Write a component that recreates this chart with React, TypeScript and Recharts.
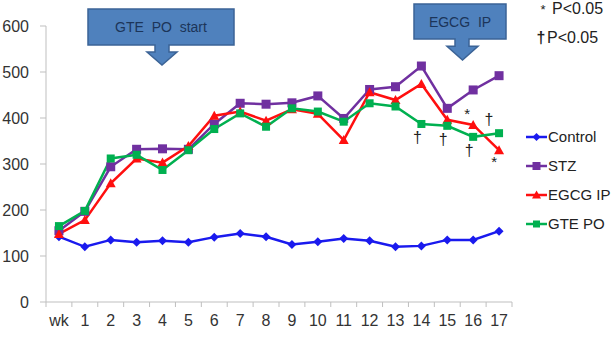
import React from "react";
import { LabelList, Line, LineChart, XAxis, YAxis } from "recharts";

const weeks = ["wk", "1", "2", "3", "4", "5", "6", "7", "8", "9", "10", "11", "12", "13", "14", "15", "16", "17"];
const control = [142, 120, 135, 130, 133, 130, 141, 149, 142, 125, 131, 138, 133, 120, 122, 135, 135, 154];
const stz = [155, 197, 294, 332, 333, 332, 387, 432, 430, 433, 448, 399, 462, 468, 513, 421, 461, 492];
const egcg = [148, 178, 258, 312, 303, 339, 405, 414, 394, 419, 409, 352, 456, 439, 474, 396, 385, 330];
const gte = [165, 198, 312, 320, 287, 330, 376, 410, 381, 421, 414, 392, 432, 425, 387, 383, 359, 367];

// significance marks: "" none, otherwise "<symbol>:<above|below>"
const egcgSig = ["", "", "", "", "", "", "", "", "", "", "", "", "", "", "", "", "*:above", "*:below"];
const gteSig = ["", "", "", "", "", "", "", "", "", "", "", "", "", "", "†:below", "†:below", "†:below", "†:above"];

const yTicks = [0, 100, 200, 300, 400, 500, 600];
const edgeTicks = weeks.map((_, i) => i - 0.5).concat([weeks.length - 0.5]);

const data = weeks.map((wk, i) => ({
  i,
  wk,
  control: control[i],
  stz: stz[i],
  egcg: egcg[i],
  gte: gte[i],
}));

const FONT = "'Liberation Sans', Arial, sans-serif";
const AXIS = "#bfbfbf";

type Shape = "diamond" | "square" | "triangle";

const series: { key: string; name: string; color: string; shape: Shape; size: number }[] = [
  { key: "control", name: "Control", color: "#1a1aee", shape: "diamond", size: 4.5 },
  { key: "stz", name: "STZ", color: "#7030a0", shape: "square", size: 4.5 },
  { key: "egcg", name: "EGCG IP", color: "#ff0f0f", shape: "triangle", size: 5 },
  { key: "gte", name: "GTE PO", color: "#00b050", shape: "square", size: 4 },
];

function Marker({ cx, cy, shape, size, color }: { cx: number; cy: number; shape: Shape; size: number; color: string }) {
  if (cx == null || cy == null) return null;
  if (shape === "diamond") {
    const s = size;
    return <path d={`M${cx},${cy - s}L${cx + s},${cy}L${cx},${cy + s}L${cx - s},${cy}Z`} fill={color} />;
  }
  if (shape === "triangle") {
    const s = size;
    return <path d={`M${cx},${cy - s}L${cx + s},${cy + s * 0.8}L${cx - s},${cy + s * 0.8}Z`} fill={color} />;
  }
  return <rect x={cx - size} y={cy - size} width={size * 2} height={size * 2} fill={color} />;
}

const WeekTick = (props: any) => {
  const { x, y, payload, width } = props;
  const idx = Math.round(payload.value + 0.5);
  if (idx < 0 || idx >= weeks.length) return null;
  const half = (width || 466) / weeks.length / 2;
  return (
    <text x={x + half} y={y + 17} textAnchor="middle" fontSize={16} fill="#333" fontFamily={FONT}>
      {weeks[idx]}
    </text>
  );
};

const sigLabel = (marks: string[], dxAbove: number, dxBelow: number) => (props: any) => {
  const { x, y, index } = props;
  const m = marks[index];
  if (!m) return null;
  const [sym, pos] = m.split(":");
  const isStar = sym === "*";
  const dy = pos === "above" ? (isStar ? -6 : -8) : isStar ? 17 : 19;
  const dx = pos === "above" ? dxAbove : dxBelow;
  return (
    <text x={x + dx} y={y + dy} textAnchor="middle" fontSize={isStar ? 15 : 16} fill="#222" fontFamily={FONT}>
      {sym}
    </text>
  );
};

const LegendBox = () => (
  <div style={{ position: "absolute", left: 526, top: 122, fontFamily: FONT, fontSize: 15, color: "#222", whiteSpace: "nowrap" }}>
    {series.map((s) => (
      <div key={s.key} style={{ display: "flex", alignItems: "center", height: 29 }}>
        <svg width={22} height={14}>
          <line x1={0} y1={7} x2={21} y2={7} stroke={s.color} strokeWidth={2.5} />
          <Marker cx={10.5} cy={7} shape={s.shape} size={s.size - 0.5} color={s.color} />
        </svg>
        <span style={{ marginLeft: 0 }}>{s.name}</span>
      </div>
    ))}
  </div>
);

function Callout({ x1, y1, x2, y2, stem, head, tipY, label }: any) {
  const cx = (x1 + x2) / 2;
  const neck = y2 + (tipY - y2) * 0.35;
  const d = `M${x1},${y1}H${x2}V${y2}H${stem[1]}V${neck}H${head[1]}L${(head[0] + head[1]) / 2},${tipY}L${head[0]},${neck}H${stem[0]}V${y2}H${x1}Z`;
  return (
    <g>
      <path d={d} fill="#4f81bd" stroke="#3b6396" strokeWidth={1.5} />
      <text x={cx} y={(y1 + y2) / 2 + 5} textAnchor="middle" fontSize={14} fill="#1c3559" fontFamily={FONT} style={{ whiteSpace: "pre" }}>
        {label}
      </text>
    </g>
  );
}

export default function App() {
  return (
    <div style={{ position: "absolute", left: 0, top: 0, width: 611, height: 342, background: "#fff", fontFamily: FONT, overflow: "hidden" }}>
      <LineChart width={611} height={342} data={data} margin={{ top: 26, right: 99, bottom: 0, left: 0 }}>
        <XAxis
          dataKey="i"
          type="number"
          domain={[-0.5, weeks.length - 0.5]}
          ticks={edgeTicks}
          interval={0}
          stroke={AXIS}
          tickSize={5}
          height={40}
          tick={<WeekTick />}
        />
        <YAxis
          domain={[0, 600]}
          ticks={yTicks}
          width={46}
          stroke={AXIS}
          tickSize={6}
          tickMargin={11}
          tick={{ fontSize: 16, fill: "#333", fontFamily: FONT }}
        />
        {series.map((s) => (
          <Line
            key={s.key}
            dataKey={s.key}
            name={s.name}
            stroke={s.color}
            strokeWidth={2.5}
            isAnimationActive={false}
            dot={(p: any) => <Marker key={`${s.key}-${p.index}`} cx={p.cx} cy={p.cy} shape={s.shape} size={s.size} color={s.color} />}
            activeDot={false}
          >
            {s.key === "egcg" && <LabelList dataKey="egcg" content={sigLabel(egcgSig, -6, -5)} />}
            {s.key === "gte" && <LabelList dataKey="gte" content={sigLabel(gteSig, -10, -4)} />}
          </Line>
        ))}
      </LineChart>
      <LegendBox />
      <svg width={611} height={342} style={{ position: "absolute", left: 0, top: 0, pointerEvents: "none" }}>
        <Callout x1={88} y1={9} x2={234} y2={45} stem={[155, 169]} head={[147, 177]} tipY={65} label="GTE  PO  start" />
        <Callout x1={414} y1={4} x2={506} y2={39} stem={[455, 469]} head={[447, 478]} tipY={60} label="EGCG  IP" />
        <g fontFamily={FONT} fontSize={16} fill="#222">
          <text x={543} y={14} fontSize={13} textAnchor="middle">*</text>
          <text x={552} y={14}>P&lt;0.05</text>
          <text x={541} y={43} fontWeight="bold" textAnchor="middle">†</text>
          <text x={547} y={43}>P&lt;0.05</text>
        </g>
      </svg>
    </div>
  );
}
